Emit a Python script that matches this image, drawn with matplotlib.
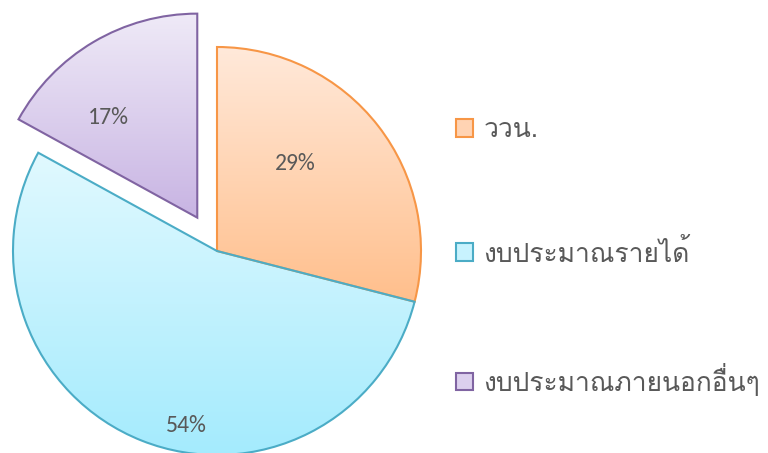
import matplotlib
matplotlib.use("Agg")
import matplotlib.pyplot as plt
import numpy as np
from matplotlib import font_manager as fm
from matplotlib.patches import Patch
from matplotlib.colors import LinearSegmentedColormap

# ---- data ----
labels = ["ววน.", "งบประมาณรายได้", "งบประมาณภายนอกอื่นๆ"]
values = [29, 54, 17]
explode = [0, 0, 0.19]

edge_colors = ["#F79646", "#4BACC6", "#8064A2"]
top_colors = ["#FFE9DA", "#E1F9FF", "#EFEAF7"]
bottom_colors = ["#FFBF8C", "#A4EBFD", "#C8B4E3"]
legend_fill = ["#FFD3B3", "#C8F3FE", "#DCD0EE"]

# label placement (fraction of wedge angle, radius from wedge centre)
lab_frac = [0.60, 0.56, 0.68]
lab_rad = [0.576, 0.87, 0.655]

available = {f.name for f in fm.fontManager.ttflist}
def pick(cands, default="DejaVu Sans"):
    for c in cands:
        if c in available:
            return c
    return default

thai_font = pick(["Loma", "Sarabun", "Noto Sans Thai Looped", "Niramit", "Noto Sans Thai"])
num_font = pick(["Carlito", "Open Sans", "Noto Sans"])

W, H = 768, 453
cx, cy, R = 217, 251, 204

fig = plt.figure(figsize=(W / 100, H / 100), dpi=100)
ax = fig.add_axes([0, 0, 1, 1])

wedges, _ = ax.pie(values, explode=explode, startangle=90, counterclock=False,
                   radius=1.0, center=(0, 0),
                   wedgeprops=dict(linewidth=1.5))
ax.set_aspect("auto")
ax.axis("off")

for i, w in enumerate(wedges):
    w.set_facecolor("none")
    w.set_edgecolor(edge_colors[i])
    w.set_zorder(3)
    # gradient fill clipped to wedge
    path = w.get_path()
    verts = w.get_patch_transform().transform(path.vertices)
    x0, x1 = verts[:, 0].min(), verts[:, 0].max()
    y0, y1 = verts[:, 1].min(), verts[:, 1].max()
    cmap = LinearSegmentedColormap.from_list("g%d" % i, [bottom_colors[i], top_colors[i]])
    grad = np.linspace(0, 1, 256).reshape(-1, 1)
    im = ax.imshow(grad, cmap=cmap, extent=(x0, x1, y0, y1), origin="lower",
                   aspect="auto", zorder=2, interpolation="bilinear")
    im.set_clip_path(w)
    # percentage label
    ccx, ccy = w.center
    t1, t2 = w.theta1, w.theta2
    ang = np.deg2rad(t1 + lab_frac[i] * (t2 - t1))
    ax.text(ccx + lab_rad[i] * np.cos(ang), ccy + lab_rad[i] * np.sin(ang),
            "%d%%" % values[i], ha="center", va="center", fontsize=17,
            color="#595959", family=[num_font, "DejaVu Sans"], zorder=5)

ax.set_xlim(-cx / R, (W - cx) / R)
ax.set_ylim(-(H - cy) / R, cy / R)

handles = [Patch(facecolor=legend_fill[i], edgecolor=edge_colors[i], linewidth=1.5)
           for i in range(len(labels))]
leg = fig.legend(handles, labels, loc="center left", bbox_to_anchor=(445 / W, 1 - 257 / H),
                 frameon=False, prop={"family": [thai_font, "DejaVu Sans"], "size": 19},
                 labelcolor="#595959", handlelength=0.65, handleheight=0.65,
                 handletextpad=0.4, labelspacing=3.65, borderaxespad=0)

fig.savefig("out.png", dpi=100)
